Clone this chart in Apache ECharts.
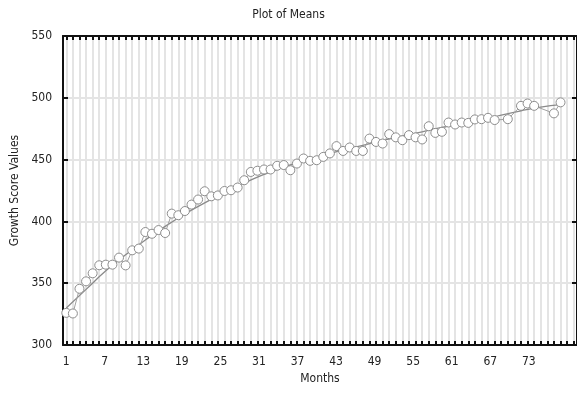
<!DOCTYPE html>
<html>
<head>
<meta charset="utf-8">
<script src="https://cdn.jsdelivr.net/npm/echarts@6/dist/echarts.min.js"></script>
<style>
html, body { margin: 0; padding: 0; background: #fff; }
#chart { width: 577px; height: 400px; }
</style>
</head>
<body>
<div id="chart"></div>
<script>
// months on the plotted axis (ticks / grid) and on the label row
const monthCats = Array.from({ length: 78 }, (_, i) => String(i + 1))
const labelCats = Array.from({ length: 80 }, (_, i) => String(i + 1))

// observed means: [month, value]
const meanPoints = [
  ['1', 326], ['2', 325.5], ['3', 345.5], ['4', 351.5], ['5', 358], ['6', 364.5],
  ['7', 365], ['8', 365], ['9', 370.7], ['10', 364.4], ['11', 376.6], ['12', 378],
  ['13', 391.4], ['14', 390], ['15', 393], ['16', 390.6], ['17', 406.3], ['18', 405],
  ['19', 408.4], ['20', 413.6], ['21', 417.7], ['22', 424.4], ['23', 420.3], ['24', 421],
  ['25', 424.6], ['26', 425.2], ['27', 427.4], ['28', 433.3], ['29', 440], ['30', 441],
  ['31', 442], ['32', 442], ['33', 445], ['34', 445.6], ['35', 441.4], ['36', 446.8],
  ['37', 450.9], ['38', 449], ['39', 449.5], ['40', 452.2], ['41', 455], ['42', 460.9],
  ['43', 457], ['44', 459.8], ['45', 457], ['46', 457], ['47', 467], ['48', 464.3],
  ['49', 463], ['50', 470.6], ['51', 468], ['52', 465.7], ['53', 469.8], ['54', 468],
  ['55', 466.3], ['56', 477], ['57', 471.6], ['58', 472.5], ['59', 480], ['60', 478.4],
  ['61', 480], ['62', 479.7], ['63', 482.5], ['64', 482.7], ['65', 483.8], ['66', 482],
  ['68', 482.7], ['70', 493.5], ['71', 495.4], ['72', 493.5], ['75', 487.4], ['76', 496.3]
]

// fitted trend
const fitPoints = [
  ['1', 330], ['4', 345], ['7', 360], ['10', 373], ['13', 385], ['16', 396],
  ['19', 406], ['22', 415], ['25', 423], ['28', 431], ['31', 438], ['34', 444],
  ['37', 449], ['40', 453], ['43', 458], ['46', 461.5], ['49', 465.5], ['52', 469],
  ['55', 472.5], ['58', 476], ['61', 479], ['64', 482], ['67', 486], ['70', 489.5],
  ['73', 492.5], ['76', 494.5]
]

const font = "'Liberation Sans Narrow', 'DejaVu Sans Condensed', sans-serif"

const chart = echarts.init(document.getElementById('chart'))
chart.setOption({
  animation: false,
  textStyle: { fontFamily: font },
  title: {
    text: 'Plot of Means',
    left: 'center',
    top: 4,
    textStyle: { fontSize: 12, fontWeight: 'normal', color: '#222', fontFamily: font }
  },
  grid: { left: 63, right: 0, top: 36, bottom: 55, containLabel: false, outerBoundsMode: 'none' },
  xAxis: [
    {
      type: 'category',
      data: monthCats,
      boundaryGap: true,
      position: 'bottom',
      axisLine: { lineStyle: { color: '#111', width: 2 } },
      axisTick: { show: true, interval: 0, alignWithLabel: true, inside: true, length: 4, lineStyle: { color: '#111', width: 2 } },
      axisLabel: { show: false },
      splitLine: { show: true, interval: 0, alignWithLabel: true, lineStyle: { color: '#e4e4e4', width: 2 } }
    },
    {
      type: 'category',
      data: labelCats,
      boundaryGap: true,
      position: 'bottom',
      name: 'Months',
      nameLocation: 'middle',
      nameGap: 26,
      nameTextStyle: { fontSize: 12, color: '#222', fontFamily: font },
      axisLine: { show: false },
      axisTick: { show: false },
      axisLabel: {
        interval: (i) => i % 6 === 0 && i <= 72,
        margin: 11,
        fontSize: 12,
        color: '#222',
        fontFamily: font
      },
      splitLine: { show: false }
    },
    {
      type: 'category',
      data: monthCats,
      boundaryGap: true,
      position: 'top',
      axisLine: { lineStyle: { color: '#111', width: 2 } },
      axisTick: { show: true, interval: 0, alignWithLabel: true, inside: true, length: 4, lineStyle: { color: '#111', width: 2 } },
      axisLabel: { show: false },
      splitLine: { show: false }
    }
  ],
  yAxis: [
    {
      type: 'value',
      min: 300,
      max: 550,
      interval: 50,
      position: 'left',
      name: 'Growth Score Values',
      nameLocation: 'middle',
      nameGap: 41,
      nameTextStyle: { fontSize: 12, color: '#222', fontFamily: font },
      axisLine: { show: true, lineStyle: { color: '#111', width: 2 } },
      axisTick: { show: true, inside: true, length: 5, lineStyle: { color: '#111', width: 2 } },
      axisLabel: { fontSize: 12, color: '#222', margin: 11, fontFamily: font },
      splitLine: { show: true, lineStyle: { color: '#e4e4e4', width: 2 } }
    },
    {
      type: 'value',
      min: 300,
      max: 550,
      interval: 50,
      position: 'right',
      axisLine: { show: true, lineStyle: { color: '#111', width: 2 } },
      axisTick: { show: true, inside: true, length: 5, lineStyle: { color: '#111', width: 2 } },
      axisLabel: { show: false },
      splitLine: { show: false }
    }
  ],
  series: [
    {
      name: 'Fit',
      type: 'line',
      xAxisIndex: 0,
      yAxisIndex: 0,
      data: fitPoints,
      smooth: true,
      symbol: 'none',
      lineStyle: { color: '#8a8a8a', width: 1.3 },
      z: 2
    },
    {
      name: 'Means',
      type: 'line',
      xAxisIndex: 0,
      yAxisIndex: 0,
      data: meanPoints,
      symbol: 'circle',
      symbolSize: 9,
      showSymbol: true,
      showAllSymbol: true,
      lineStyle: { color: '#a0a0a0', width: 1 },
      itemStyle: { color: '#fff', borderColor: '#8c8c8c', borderWidth: 1 },
      z: 3
    }
  ]
})
</script>
</body>
</html>
